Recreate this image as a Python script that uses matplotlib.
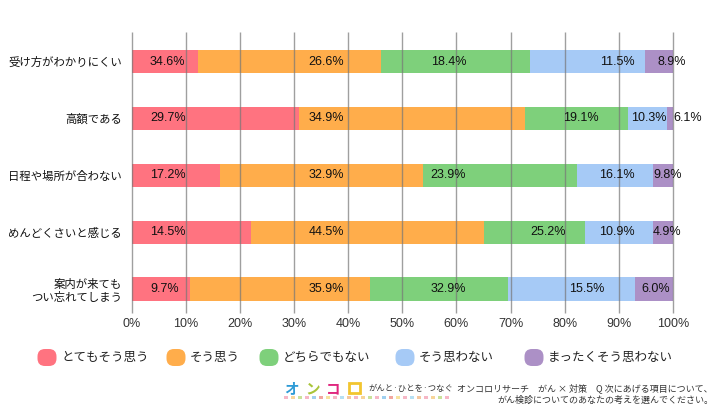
"""Stacked 100% bar chart: reasons for not getting cancer screening (Oncolo survey)."""

import matplotlib
matplotlib.use("Agg")
import matplotlib.pyplot as plt
from matplotlib.patches import FancyBboxPatch, Rectangle
from matplotlib.transforms import IdentityTransform

JP = ["Noto Sans CJK JP", "DejaVu Sans"]
NUM = ["Liberation Sans", "Noto Sans CJK JP", "DejaVu Sans"]
plt.rcParams["font.family"] = NUM

# --- data -------------------------------------------------------------------
categories = [
    "受け方がわかりにくい",
    "高額である",
    "日程や場所が合わない",
    "めんどくさいと感じる",
    "案内が来ても\nつい忘れてしまう",
]
series_names = ["とてもそう思う", "そう思う", "どちらでもない", "そう思わない", "まったくそう思わない"]

# segment widths as drawn in the source picture (%)
strongly_agree = [12.3, 30.9, 16.3, 22.0, 10.8]
agree = [33.8, 41.8, 37.5, 43.1, 33.2]
neutral = [27.5, 19.0, 28.5, 18.6, 25.5]
disagree = [21.2, 7.2, 14.0, 12.6, 23.5]
strongly_disagree = [5.2, 1.1, 3.7, 3.7, 7.0]

# value labels printed on the bars
label_strongly_agree = [34.6, 29.7, 17.2, 14.5, 9.7]
label_agree = [26.6, 34.9, 32.9, 44.5, 35.9]
label_neutral = [18.4, 19.1, 23.9, 25.2, 32.9]
label_disagree = [11.5, 10.3, 16.1, 10.9, 15.5]
label_strongly_disagree = [8.9, 6.1, 9.8, 4.9, 6.0]

xticks = [0, 10, 20, 30, 40, 50, 60, 70, 80, 90, 100]

# --- layout / style ---------------------------------------------------------
colors = ["#FF7380", "#FFAD4B", "#7ED07B", "#A6CAF6", "#AC90C6"]
# where each label column sits (x in %), and how it is anchored
label_x = [
    [3.4, 3.4, 3.4, 3.4, 3.4],
    [39.2, 39.2, 39.2, 39.2, 39.2],
    [61.8, 86.2, 61.8, 80.2, 61.8],
    [93.0, 98.9, 93.0, 93.0, 87.4],
    [97.2, 100.0, 96.3, 96.3, 94.2],
]
label_ha = ["left", "right", "right", "right", "left"]

W, H = 720, 411


def fx(x):
    return x / W


def fy(y):
    return 1 - y / H


fig = plt.figure(figsize=(7.2, 4.11), dpi=100)
ax_top, ax_bot, ax_l, ax_r = 32, 300.7, 131.5, 673
ax = fig.add_axes([fx(ax_l), fy(ax_bot), (ax_r - ax_l) / W, (ax_bot - ax_top) / H])

widths = [strongly_agree, agree, neutral, disagree, strongly_disagree]
labels = [label_strongly_agree, label_agree, label_neutral, label_disagree,
          label_strongly_disagree]
ypos = list(range(len(categories)))
left = [0.0] * len(categories)
for w, c in zip(widths, colors):
    ax.barh(ypos, w, left=left, height=0.41, color=c, edgecolor="none", zorder=2)
    left = [a + b for a, b in zip(left, w)]

for col, (vals, xs) in enumerate(zip(labels, label_x)):
    for i, (v, x) in enumerate(zip(vals, xs)):
        ax.text(x, i, f"{v:.1f}%", ha=label_ha[col], va="center",
                fontsize=9, color="#111111", zorder=4)

ax.set_xlim(0, 100)
ax.set_ylim(len(categories) - 1 + 0.205, -0.52)

# gridlines drawn over the bars, running down past the axis as tick marks
tick_ext = 12 / (ax_bot - ax_top)
ax.vlines(xticks, -tick_ext, 1, transform=ax.get_xaxis_transform(),
          color="#777777", linewidth=1, alpha=0.7, zorder=3, clip_on=False)

ax.set_xticks(xticks)
ax.set_xticklabels([f"{t}%" for t in xticks], fontsize=9, color="#333333")
ax.set_yticks(ypos)
ax.set_yticklabels(categories, fontsize=8.2, family=JP, color="#111111",
                   linespacing=1.25)
ax.tick_params(axis="x", length=0, pad=12.5)
ax.tick_params(axis="y", length=0, pad=7)
for s in ax.spines.values():
    s.set_visible(False)

# --- legend -----------------------------------------------------------------
leg_text_x = [61, 190, 283, 419, 548]
leg_y = 357.5
for name, c, tx in zip(series_names, colors, leg_text_x):
    cx = tx - 14
    box = FancyBboxPatch((cx - 9.5, H - leg_y - 8.5), 19, 17,
                         boxstyle="round,pad=0,rounding_size=7.5",
                         transform=IdentityTransform(), facecolor=c,
                         edgecolor="none")
    fig.add_artist(box)
    fig.text(fx(tx), fy(leg_y), name, ha="left", va="center", fontsize=9,
             family=JP, color="#222222")

# --- footer -----------------------------------------------------------------
logo = [("オ", "#2E9BD6", 291), ("ン", "#A9C43A", 313), ("コ", "#E0267E", 333)]
for ch, c, x in logo:
    fig.text(fx(x), fy(388), ch, ha="center", va="center", fontsize=10.5,
             family=JP, color=c, fontweight="bold")
fig.add_artist(Rectangle((349, H - 393), 11, 10, transform=IdentityTransform(),
                         facecolor="none", edgecolor="#F2C530", linewidth=2))
dot_colors = ["#F6B7C6", "#F7D59A", "#C9E29A", "#F6B7C6", "#9FD0F0", "#F2A7A0",
              "#F7E3A0", "#F6B7C6", "#B6E0F4", "#F4C7A0"]
x = 284
k = 0
while x < 452:
    fig.add_artist(Rectangle((x, H - 399), 3.5, 3, transform=IdentityTransform(),
                             facecolor=dot_colors[k % len(dot_colors)],
                             edgecolor="none"))
    x += 7
    k += 1

fig.text(fx(368), fy(388.5), "がんと·ひとを·つなぐ", ha="left", va="center",
         fontsize=6, family=JP, color="#333333")
fig.text(fx(713), fy(388.5), "オンコロリサーチ　がん × 対策　Q 次にあげる項目について、",
         ha="right", va="center", fontsize=6.5, family=JP, color="#333333")
fig.text(fx(713), fy(400.5), "がん検診についてのあなたの考えを選んでください。",
         ha="right", va="center", fontsize=6.5, family=JP, color="#333333")

fig.savefig("out.png", dpi=100)
